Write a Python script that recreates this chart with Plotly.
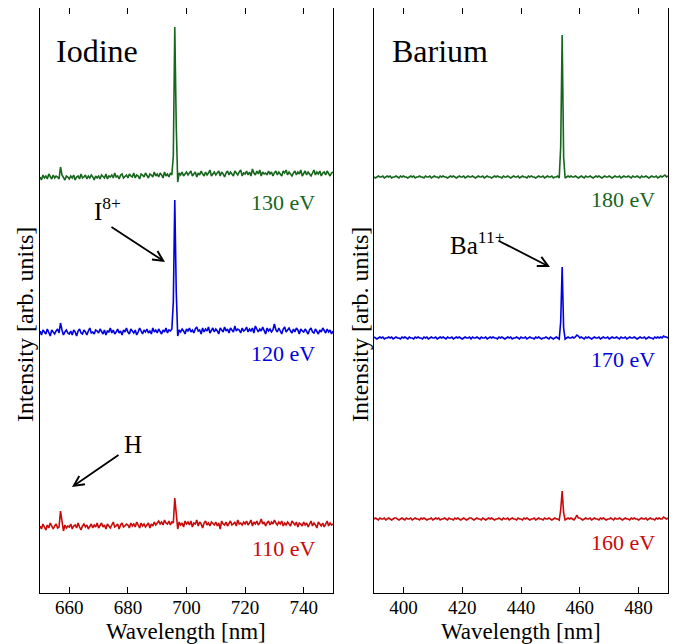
import numpy as np
import plotly.graph_objects as go

# ---------------- data ----------------
# Iodine panel: wavelength grid 650..750 nm, 0.5 nm step (201 pts)
iodine_wl = np.linspace(650, 750, 201)
iodine_110 = [0,-3,2,-1,-4,1,-2,3,-1,-3,0,2,-2,-1,15,3,-5,1,-2,0,
              -1,2,-3,0,1,-2,3,-1,-4,0,2,-1,1,-3,0,2,-2,1,-1,3,
              -2,0,3,-1,1,-3,2,0,-2,1,4,-1,0,2,-3,1,3,-1,0,2,
              1,-2,3,0,2,-1,4,1,-2,3,0,2,-1,1,3,-2,2,0,4,1,
              3,5,2,4,1,6,3,2,5,1,4,3,28,12,-3,4,1,3,-1,5,
              2,4,1,5,-1,3,2,6,0,4,2,-2,3,5,1,3,0,4,2,1,
              4,0,3,-3,5,2,1,4,0,3,5,1,2,4,0,6,2,3,1,4,
              2,5,1,3,6,0,4,2,5,1,3,7,2,4,0,3,5,1,4,2,
              6,3,1,4,2,5,0,3,1,4,2,0,5,3,1,4,-1,3,2,0,
              4,1,3,-1,2,5,0,3,1,-2,4,2,0,3,-1,2,5,0,3,1,2]
iodine_120 = [1,-3,2,0,-2,3,-1,-4,2,0,-2,1,3,-1,9,2,-3,0,2,-1,
              -2,1,-3,2,0,-4,1,3,-1,-2,2,0,-3,1,4,-1,0,-2,2,1,
              -1,3,0,-2,2,-3,1,0,4,-1,2,-2,0,3,-1,1,-3,2,0,4,
              0,-2,3,1,-1,2,-3,0,4,1,-2,2,0,3,-1,1,-2,4,0,2,
              -1,3,1,-2,2,0,4,-1,2,1,3,30,132,40,-4,2,0,3,1,-2,
              3,1,4,0,2,-1,3,5,1,2,-2,4,0,3,1,5,-1,2,4,0,
              3,1,-2,4,2,0,5,1,3,-1,4,2,0,6,1,3,2,-1,4,1,
              2,5,0,3,1,4,-1,6,2,0,3,1,5,2,-2,4,1,3,0,2,
              8,2,0,4,1,-2,3,5,0,2,4,1,-1,3,0,4,2,-2,3,1,
              0,3,1,-2,2,4,0,-1,3,1,-2,2,0,4,1,-1,3,0,2,-2,1]
iodine_130 = [-1,-4,1,-2,0,-3,2,-1,-3,1,-2,0,-1,-3,9,1,-2,-4,0,-1,
              -3,0,-2,1,-4,-1,0,-3,2,-2,-1,1,-3,0,-2,1,-1,-4,0,-2,
              0,-3,1,-1,-2,2,-3,0,-1,1,-2,3,-1,0,-3,1,2,-2,0,1,
              -2,2,0,-1,3,-2,1,0,-3,2,1,-1,3,0,-2,2,1,-1,4,0,
              2,-1,3,1,-2,4,0,2,-1,3,1,20,149,50,-6,3,1,4,0,2,
              4,1,3,5,0,2,4,-1,3,1,5,2,0,4,1,3,6,0,2,4,
              1,3,5,0,4,2,-1,3,5,1,4,2,0,5,3,1,4,6,0,3,
              2,5,1,4,0,7,3,1,5,2,6,0,4,2,3,1,5,2,4,0,
              3,5,1,4,2,0,5,3,6,1,4,2,0,3,5,1,4,2,6,0,
              3,5,1,4,2,0,3,6,1,4,2,5,0,3,4,1,5,2,0,3,4]

# Barium panel: wavelength grid 390..490 nm, 0.5 nm step (201 pts)
barium_wl = np.linspace(390, 490, 201)
barium_160 = [0,1,0,-1,1,0,0,1,-1,0,1,0,-1,0,1,1,0,-1,0,1,
              0,-1,1,0,0,1,-1,0,1,0,0,-1,1,0,1,0,-1,0,0,1,
              -1,0,1,0,1,-1,0,0,1,0,-1,1,0,0,-1,1,0,1,0,-1,
              0,1,0,-1,0,1,1,0,-1,0,1,0,0,-1,1,0,-1,0,1,0,
              1,0,-1,0,0,1,0,-1,1,0,0,1,-1,0,1,0,0,-1,1,0,
              0,-1,1,0,1,0,-1,0,0,1,-1,0,1,0,0,-1,1,0,0,1,
              0,-1,0,1,0,0,-1,9,28,6,-1,0,1,0,1,0,-1,1,4,1,
              1,0,-1,0,1,0,0,1,-1,0,1,0,0,-1,1,0,1,0,-1,0,
              0,1,0,-1,1,0,0,1,0,-1,0,1,0,0,-1,1,0,1,0,0,
              -1,0,1,0,0,1,-1,0,1,0,0,-1,1,0,1,0,0,2,1,0,1]
barium_170 = [1,0,-1,0,1,0,1,-1,0,0,1,0,1,-1,0,1,0,0,-1,1,
              0,1,0,-1,1,0,0,-1,1,0,1,0,0,-1,1,0,1,-1,0,1,
              0,0,1,-1,0,1,0,1,0,-1,1,0,0,1,-1,0,1,0,1,0,
              -1,0,1,0,0,1,-1,1,0,0,1,0,-1,1,0,0,1,-1,0,1,
              0,1,0,0,-1,1,0,1,0,-1,0,1,0,1,-1,0,0,1,0,-1,
              1,0,0,1,-1,0,1,0,0,-1,1,0,1,0,-1,0,0,1,0,-1,
              1,0,-1,0,1,0,-1,16,71,10,-1,0,1,0,0,1,0,1,3,2,
              0,1,0,-1,1,0,1,0,-1,0,1,0,0,1,-1,0,1,0,0,1,
              -1,0,1,0,0,1,0,-1,1,0,0,1,-1,0,1,0,0,1,0,-1,
              0,1,0,0,1,-1,0,1,0,0,-1,1,0,1,0,1,0,2,1,1,0]
barium_180 = [0,-1,0,1,0,0,1,-1,0,1,0,1,-1,0,0,1,0,-1,1,0,
              1,0,0,-1,0,1,0,1,-1,0,0,1,0,0,-1,1,0,0,1,-1,
              0,1,0,0,-1,1,0,1,0,0,-1,0,1,0,1,0,-1,0,1,0,
              0,1,-1,0,1,0,0,1,0,-1,0,1,0,0,1,-1,0,1,0,0,
              -1,0,1,0,1,0,0,-1,1,0,0,1,0,-1,0,1,0,0,1,-1,
              0,1,0,0,-1,1,0,1,0,0,-1,0,1,0,0,1,-1,0,1,0,
              0,1,-1,0,0,1,-1,30,142,20,-1,0,1,0,1,0,0,1,0,-1,
              0,1,0,-1,1,0,0,1,0,-1,0,1,0,1,0,-1,0,1,0,0,
              1,0,-1,0,1,0,0,1,-1,0,1,0,0,1,0,-1,1,0,0,1,
              0,-1,1,0,0,1,0,-1,0,1,0,0,1,-1,0,1,0,1,2,0,1]

# vertical offsets of the stacked spectra (arb. units)
iodine_offsets = {"110 eV": 67, "120 eV": 261, "130 eV": 417}
barium_offsets = {"160 eV": 74, "170 eV": 255, "180 eV": 416}

GREEN = "#16661c"
BLUE = "#0000e0"
RED = "#c80a0a"
FONT = "Liberation Serif, Times New Roman, serif"

# page has an 8px body margin; figure is placed at (8, 8)
OFF = 8
W, H = 677 - OFF, 644 - OFF
def PX(x):
    return (x - OFF) / W
def PY(y):
    return min(1.0, max(0.0, 1 - (y - OFF) / H))

TOP, BOTTOM = 8, 593

fig = go.Figure()

def add(wl, vals, off, color, xa, ya):
    fig.add_trace(go.Scatter(
        x=wl, y=[v + off for v in vals], mode="lines",
        line=dict(color=color, width=1.6), xaxis=xa, yaxis=ya,
        showlegend=False, hoverinfo="skip"))

add(iodine_wl, iodine_110, iodine_offsets["110 eV"], RED, "x", "y")
add(iodine_wl, iodine_120, iodine_offsets["120 eV"], BLUE, "x", "y")
add(iodine_wl, iodine_130, iodine_offsets["130 eV"], GREEN, "x", "y")
add(barium_wl, barium_160, barium_offsets["160 eV"], RED, "x2", "y2")
add(barium_wl, barium_170, barium_offsets["170 eV"], BLUE, "x2", "y2")
add(barium_wl, barium_180, barium_offsets["180 eV"], GREEN, "x2", "y2")

xcommon = dict(showline=True, linecolor="black", linewidth=1, mirror="ticks",
               ticks="inside", ticklen=6, tickcolor="black", showgrid=False,
               zeroline=False, dtick=20, ticklabelstandoff=-3,
               tickfont=dict(family=FONT, size=19, color="black"),
               automargin=False)
ycommon = dict(showline=True, linecolor="black", linewidth=1, mirror=True,
               ticks="", showticklabels=False, showgrid=False, zeroline=False,
               range=[0, BOTTOM - TOP], automargin=False)

fig.update_layout(
    width=W, height=H,
    margin=dict(l=0, r=0, t=0, b=0),
    paper_bgcolor="white", plot_bgcolor="white",
    xaxis=dict(**xcommon, domain=[PX(40), PX(333)], range=[650, 750],
               tick0=660, anchor="y"),
    xaxis2=dict(**xcommon, domain=[PX(374), PX(668)], range=[390, 490],
                tick0=400, anchor="y2"),
    yaxis=dict(**ycommon, domain=[PY(BOTTOM), PY(TOP)], anchor="x"),
    yaxis2=dict(**ycommon, domain=[PY(BOTTOM), PY(TOP)], anchor="x2"),
)

ann = []
def text(x, y, s, size, color="black", xanchor="center", angle=0):
    ann.append(dict(x=PX(x), y=PY(y), xref="paper", yref="paper", text=s,
                    showarrow=False, xanchor=xanchor, yanchor="middle",
                    textangle=angle,
                    font=dict(family=FONT, size=size, color=color)))

text(97, 51, "Iodine", 32)
text(440, 51, "Barium", 32)
text(317, 202, "130 eV", 22, GREEN, "right")
text(317, 353, "120 eV", 22, BLUE, "right")
text(317, 548, "110 eV", 22, RED, "right")
text(657, 200, "180 eV", 22, GREEN, "right")
text(657, 359, "170 eV", 22, BLUE, "right")
text(657, 542, "160 eV", 22, RED, "right")
text(25, 325, "Intensity [arb. units]", 24, angle=-90)
text(360, 325, "Intensity [arb. units]", 24, angle=-90)
text(186, 631, "Wavelength [nm]", 23)
text(521, 631, "Wavelength [nm]", 23)
text(107, 209, "I<sup>8+</sup>", 25)
text(133, 444, "H", 25)
text(478, 243, "Ba<sup>11+</sup>", 25)

def arrow(hx, hy, tx, ty):
    ann.append(dict(x=PX(hx), y=PY(hy), xref="paper", yref="paper",
                    ax=tx - hx, ay=ty - hy, axref="pixel", ayref="pixel",
                    text="", showarrow=True, arrowhead=5, arrowsize=1.1,
                    arrowwidth=1.8, arrowcolor="black"))

arrow(165, 262, 110, 226)
arrow(72, 487, 120, 454)
arrow(550, 267, 497, 240)

fig.update_layout(annotations=ann)
fig.write_html("out.html")
